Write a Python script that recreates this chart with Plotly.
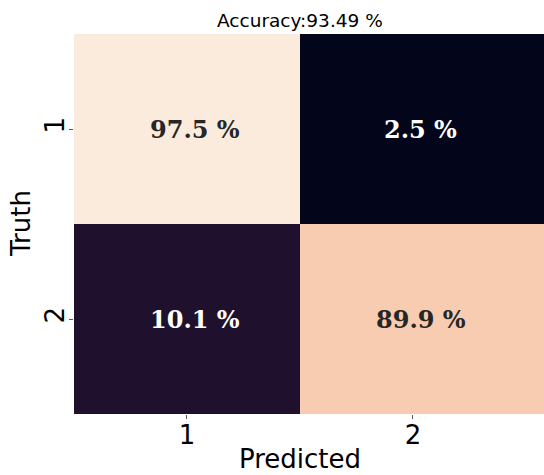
import plotly.graph_objects as go

# Data
pred_labels = ["1", "2"]
truth_labels = ["1", "2"]
values = [[97.5, 2.5],
          [10.1, 89.9]]
accuracy = 93.49
x_title = "Predicted"
y_title = "Truth"

# seaborn "rocket"-like colorscale
rocket = [
    [0.0, "#03051a"], [1/7, "#35193e"], [2/7, "#701f57"], [3/7, "#ad1759"],
    [4/7, "#e13342"], [5/7, "#f37651"], [6/7, "#f6b48f"], [1.0, "#faebdd"],
]
vmin = min(min(r) for r in values)
vmax = max(max(r) for r in values)

# bin edges: last column extends to the (cropped) right edge
x_edges = [-0.5, 0.5, 1.58]

fig = go.Figure(go.Heatmap(
    z=values,
    x=x_edges,
    y=[0, 1],
    colorscale=rocket,
    zmin=vmin, zmax=vmax,
    showscale=False,
    hoverinfo="skip",
))

mid = (vmin + vmax) / 2
for i, row in enumerate(values):
    for j, v in enumerate(row):
        fig.add_annotation(
            x=j, y=i, xref="x", yref="y",
            text=f"<b>{v} %</b>", showarrow=False, xshift=8,
            font=dict(family="DejaVu Serif", size=24,
                      color="#262626" if v > mid else "white"),
        )

center_x = (300 - 74) / 470  # centre of the (uncropped) heatmap
fig.add_annotation(
    text=f"Accuracy:{accuracy} %", xref="paper", yref="paper",
    x=center_x, y=1.0, yanchor="middle", xanchor="center",
    yshift=14, showarrow=False,
    font=dict(family="DejaVu Sans", size=18.5, color="black"),
)
fig.add_annotation(
    text=x_title, xref="paper", yref="paper",
    x=center_x, y=0.0, yanchor="middle", xanchor="center",
    yshift=-45, showarrow=False,
    font=dict(family="DejaVu Sans", size=26, color="black"),
)
fig.add_annotation(
    text=y_title, xref="paper", yref="paper", textangle=-90,
    x=0.0, y=0.5, yanchor="middle", xanchor="center",
    xshift=-53, showarrow=False,
    font=dict(family="DejaVu Sans", size=26, color="black"),
)

fig.update_xaxes(
    range=[-0.5, 1.58], tickvals=[0, 1], ticktext=pred_labels,
    ticks="outside", ticklen=4, tickcolor="#555", tickwidth=1,
    ticklabelstandoff=-6,
    tickfont=dict(family="DejaVu Sans", size=26, color="black"),
    showgrid=False, zeroline=False, showline=False, automargin=False,
)
fig.update_yaxes(
    range=[1.5, -0.5], tickvals=[0, 1], ticktext=truth_labels,
    ticks="outside", ticklen=4, tickcolor="#555", tickwidth=1,
    tickangle=-90, ticklabelstandoff=-5,
    tickfont=dict(family="DejaVu Sans", size=26, color="black"),
    showgrid=False, zeroline=False, showline=False, automargin=False,
)

fig.update_layout(
    width=544, height=475,
    margin=dict(l=74, r=0, t=34, b=61),
    plot_bgcolor="white", paper_bgcolor="white",
    showlegend=False,
)

fig.write_html(
    "out.html",
    config={"displayModeBar": False},
    post_script="document.body.style.margin='0';document.body.style.overflow='hidden';",
)
